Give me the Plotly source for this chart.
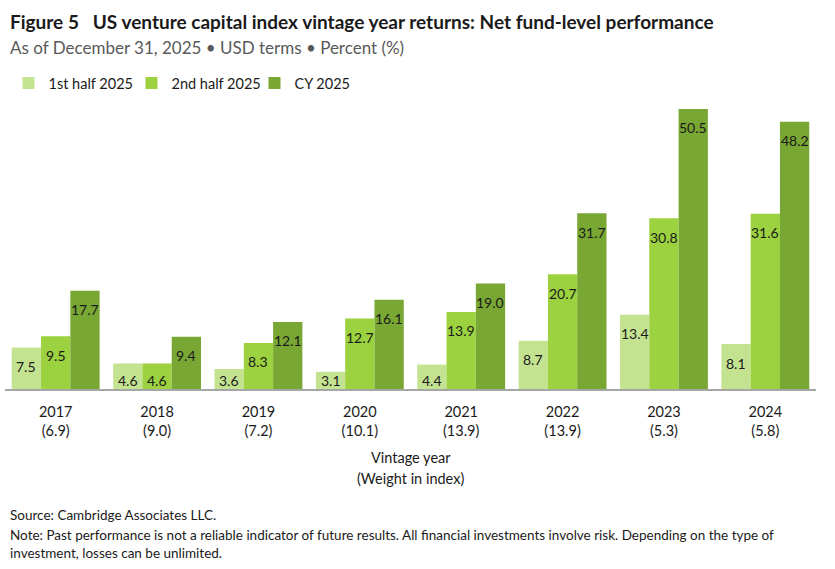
import plotly.graph_objects as go

vintages = ["2017", "2018", "2019", "2020", "2021", "2022", "2023", "2024"]
weights = ["6.9", "9.0", "7.2", "10.1", "13.9", "13.9", "5.3", "5.8"]
h1_2025 = [7.5, 4.6, 3.6, 3.1, 4.4, 8.7, 13.4, 8.1]
h2_2025 = [9.5, 4.6, 8.3, 12.7, 13.9, 20.7, 30.8, 31.6]
cy_2025 = [17.7, 9.4, 12.1, 16.1, 19.0, 31.7, 50.5, 48.2]
series_names = ["1st half 2025", "2nd half 2025", "CY 2025"]
colors = ["#C4E391", "#9CD13F", "#79A733"]

FONT = "Lato"
W, H = 835, 569
ML, MR, MT, MB = 4.5, 18.5, 100, 180
PW, PH = W - ML - MR, H - MT - MB
YMAX = 52.1
BARGAP = 0.133

def px_x(px):
    return (px - ML) / PW

def px_y(py):
    return (H - MB - py) / PH

fig = go.Figure()
xs = list(range(len(vintages)))
all_series = [h1_2025, h2_2025, cy_2025]
for name, vals, col in zip(series_names, all_series, colors):
    fig.add_trace(go.Bar(x=xs, y=vals, name=name, marker=dict(color=col, line=dict(width=0)),
                         hoverinfo="skip"))

# value labels inside bars near top
bw = (1 - BARGAP) / 3
pxu = PH / YMAX
annotations = []
for j, vals in enumerate(all_series):
    for i, v in enumerate(vals):
        hpx = v * pxu
        shift = min(19, hpx - 8.5)
        annotations.append(dict(x=i + (j - 1) * bw, y=v, xref="x", yref="y", text=f"{v:.1f}",
                                showarrow=False, yanchor="middle", yshift=-shift,
                                font=dict(family=FONT, size=14, color="#1a1a1a")))

annotations += [
    dict(x=px_x(8), y=px_y(21), xref="paper", yref="paper", xanchor="left", yanchor="middle",
         text="<b>Figure 5   US venture capital index vintage year returns: Net fund-level performance</b>",
         showarrow=False, font=dict(family=FONT, size=19, color="#1a1a1a")),
    dict(x=px_x(8), y=px_y(47), xref="paper", yref="paper", xanchor="left", yanchor="middle",
         text="As of December 31, 2025 • USD terms • Percent (%)",
         showarrow=False, font=dict(family=FONT, size=17, color="#595959")),
    dict(x=0.5, y=px_y(458), xref="paper", yref="paper", xanchor="center", yanchor="middle",
         text="Vintage year", showarrow=False, font=dict(family=FONT, size=14.5, color="#1a1a1a")),
    dict(x=0.5, y=px_y(478), xref="paper", yref="paper", xanchor="center", yanchor="middle",
         text="(Weight in index)", showarrow=False, font=dict(family=FONT, size=14.5, color="#1a1a1a")),
    dict(x=px_x(8), y=px_y(515), xref="paper", yref="paper", xanchor="left", yanchor="middle",
         text="Source: Cambridge Associates LLC.", showarrow=False,
         font=dict(family=FONT, size=13.5, color="#1a1a1a")),
    dict(x=px_x(8), y=px_y(535), xref="paper", yref="paper", xanchor="left", yanchor="middle",
         text="Note: Past performance is not a reliable indicator of future results. All financial investments involve risk. Depending on the type of",
         showarrow=False, font=dict(family=FONT, size=13.5, color="#1a1a1a")),
    dict(x=px_x(8), y=px_y(553), xref="paper", yref="paper", xanchor="left", yanchor="middle",
         text="investment, losses can be unlimited.", showarrow=False,
         font=dict(family=FONT, size=13.5, color="#1a1a1a")),
]

fig.update_layout(
    width=W, height=H,
    margin=dict(l=ML, r=MR, t=MT, b=MB, pad=0),
    plot_bgcolor="white", paper_bgcolor="white",
    barmode="group", bargap=BARGAP, bargroupgap=0,
    font=dict(family=FONT, color="#1a1a1a"),
    showlegend=True,
    legend=dict(orientation="h", x=px_x(8), y=px_y(83), xanchor="left", yanchor="middle",
                font=dict(family=FONT, size=14.5, color="#1a1a1a"), bgcolor="rgba(0,0,0,0)",
                entrywidth=78, entrywidthmode="pixels",
                itemclick=False, itemdoubleclick=False),
    annotations=annotations,
    xaxis=dict(tickmode="array", tickvals=xs,
               ticktext=[f"{v}<br>({w})" for v, w in zip(vintages, weights)],
               range=[-0.5, len(vintages) - 0.5], showline=True, linecolor="#A6A6A6", linewidth=1.5,
               ticks="", showgrid=False, zeroline=False, fixedrange=True, ticklabelstandoff=9,
               tickfont=dict(family=FONT, size=14.5, color="#1a1a1a")),
    yaxis=dict(range=[0, YMAX], visible=False, showgrid=False, zeroline=False, fixedrange=True),
)

fig.write_html("out.html", config={"displayModeBar": False})
